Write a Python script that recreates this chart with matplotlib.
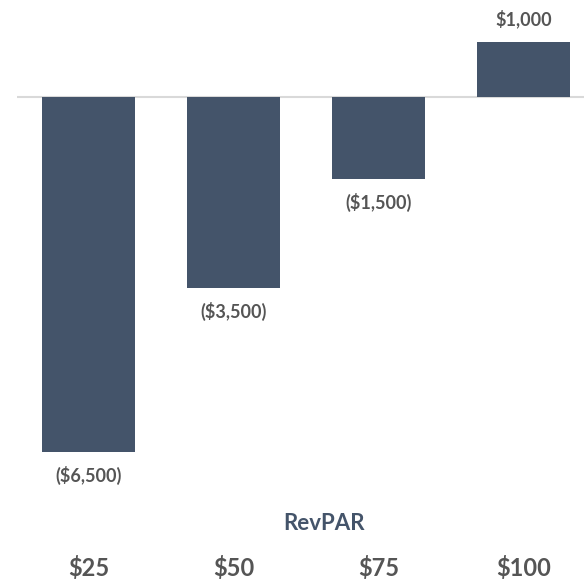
import matplotlib.pyplot as plt

revpar = ['$25', '$50', '$75', '$100']
profit = [-6500, -3500, -1500, 1000]

bar_color = '#44546A'
text_grey = '#555555'

plt.rcParams['font.family'] = ['Lato', 'DejaVu Sans']

fig = plt.figure(figsize=(5.84, 5.81), dpi=100)
# axes: x from pixel 17 to the right edge, y from top down to pixel 500
ax = fig.add_axes([17 / 584, 81 / 581, 1 - 17 / 584, 500 / 581])

x = range(len(revpar))
bars = ax.bar(x, profit, width=0.64, color=bar_color, zorder=2)

labels = [f'${v:,.0f}' if v >= 0 else f'(${-v:,.0f})' for v in profit]
ax.bar_label(bars, labels=labels, padding=10, fontsize=13, fontweight='bold',
             color=text_grey)

ax.axhline(0, color='#D9D9D9', linewidth=1.5, zorder=1)

ax.set_xlim(-0.493, 3.417)
ax.set_ylim(-7381, 1777)

ax.set_xticks(list(x), revpar)
ax.tick_params(axis='x', length=0, pad=40, labelsize=17, labelcolor=text_grey)
for t in ax.get_xticklabels():
    t.set_fontweight('bold')
ax.set_yticks([])

ax.set_xlabel('RevPAR', fontsize=16, fontweight='bold', color=bar_color,
              va='center')
ax.xaxis.set_label_coords((323.5 - 17) / 567, -24 / 500)

for s in ax.spines.values():
    s.set_visible(False)

fig.savefig('out.png', dpi=100)
